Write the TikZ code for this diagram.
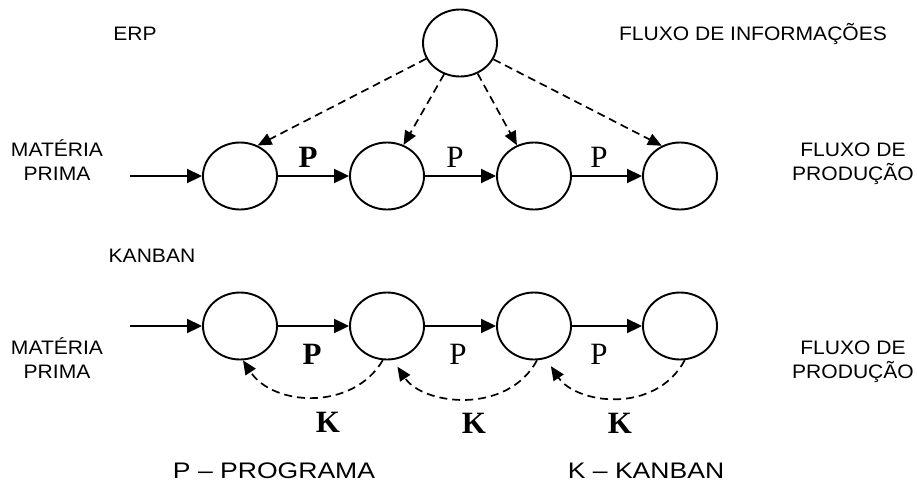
\documentclass[tikz,border=0pt]{standalone}
\usepackage{fontspec}
\setmainfont{Liberation Sans}
\newfontfamily\tagfont{Liberation Serif}
\usetikzlibrary{arrows.meta,shapes.geometric}

\begin{document}
\begin{tikzpicture}[x=1pt,y=-1pt,
  stage/.style={draw, ellipse, minimum width=74pt, minimum height=67pt,
    inner sep=0pt, line width=1.9pt},
  flow/.style={line width=1.9pt, -{Triangle[length=15pt,width=14pt]}},
  info/.style={line width=1.7pt, dash pattern=on 8pt off 5pt,
    -{Triangle[length=14pt,width=12pt]}},
  lbl/.style={font=\fontsize{19.5}{24}\selectfont, align=center,
    xscale=1.08, inner sep=0pt, anchor=base},
  legend/.style={font=\fontsize{22.5}{26}\selectfont, xscale=1.18,
    inner sep=0pt, anchor=base},
  tag/.style={font=\tagfont\fontsize{31}{31}\selectfont, inner sep=0pt},
  btag/.style={tag, font=\tagfont\bfseries\fontsize{31}{31}\selectfont},
]
\useasboundingbox (0,0) rectangle (917,482);

% side and heading texts (base = last line)
\node[lbl] (erp) at (135,40) {ERP};
\node[lbl] (info) at (753,40) {FLUXO DE INFORMAÇÕES};
\node[lbl] (mp1) at (57,180) {MATÉRIA\\PRIMA};
\node[lbl] (fp1) at (853,180) {FLUXO DE\\PRODUÇÃO};
\node[lbl] (kb) at (152,262) {KANBAN};
\node[lbl] (mp2) at (57,378) {MATÉRIA\\PRIMA};
\node[lbl] (fp2) at (853,378) {FLUXO DE\\PRODUÇÃO};
\node[legend] (lp) at (274,478.5) {P -- PROGRAMA};
\node[legend] (lk) at (646,478.5) {K -- KANBAN};

% ERP planning node
\node[stage] (top) at (460,43) {};

% production stages, ERP line
\node[stage] (a1) at (240,176) {};
\node[stage] (a2) at (387,176) {};
\node[stage] (a3) at (534,176) {};
\node[stage] (a4) at (680,176) {};

% production stages, kanban line
\node[stage] (b1) at (240,326) {};
\node[stage] (b2) at (387,326) {};
\node[stage] (b3) at (534,326) {};
\node[stage] (b4) at (680,326) {};

\coordinate (ina) at (130,176);
\coordinate (inb) at (130,326);

% material flow
\draw[flow] (ina) -- (a1);
\draw[flow] (a1) -- (a2);
\draw[flow] (a2) -- (a3);
\draw[flow] (a3) -- (a4);
\draw[flow] (inb) -- (b1);
\draw[flow] (b1) -- (b2);
\draw[flow] (b2) -- (b3);
\draw[flow] (b3) -- (b4);

% ERP information flow
\draw[info] (top.205) -- (a1.60);
\draw[info] (top.243) -- (a2.62);
\draw[info] (top.300) -- (a3.119);
\draw[info] (top.334) -- (a4.121);

% kanban signals back upstream
\draw[info] (b2.263) .. controls +(-30,51) and +(30,46) .. (b1.275);
\draw[info, shorten >=8pt] (b3.275) .. controls +(-30,55) and +(30,45) .. (b2.280);
\draw[info, shorten >=9pt] (b4.278) .. controls +(-30,55) and +(30,45) .. (b3.290);

% program / kanban tags
\node[btag] (p1) at (308,157) {P};
\node[tag] (p2) at (455,157) {P};
\node[tag] (p3) at (599,157) {P};
\node[btag] (p4) at (312,354) {P};
\node[tag] (p5) at (458,354) {P};
\node[tag] (p6) at (599,354) {P};
\node[btag] (k1) at (328,422) {K};
\node[btag] (k2) at (474,423) {K};
\node[btag] (k3) at (620,423) {K};
\end{tikzpicture}
\end{document}
